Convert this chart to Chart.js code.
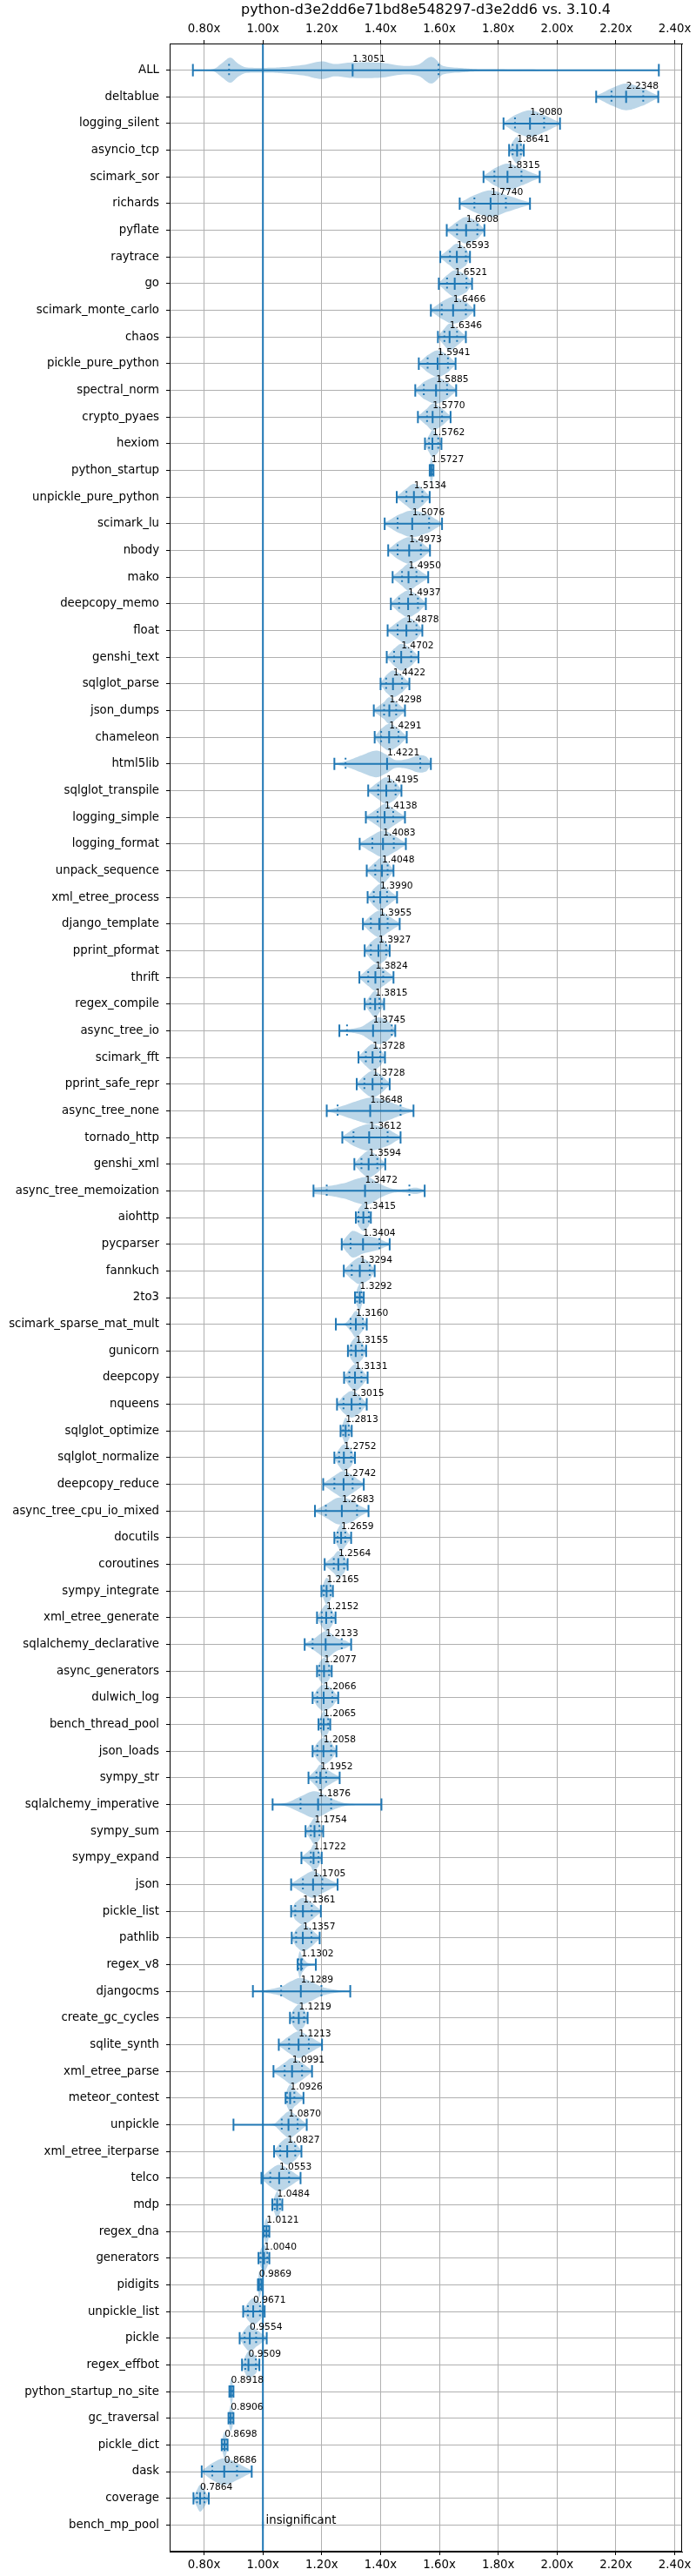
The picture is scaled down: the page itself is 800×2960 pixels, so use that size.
<!DOCTYPE html>
<html>
<head>
<meta charset="utf-8">
<title>python-d3e2dd6e71bd8e548297-d3e2dd6 vs. 3.10.4</title>
<script src="https://cdn.jsdelivr.net/npm/chart.js@4.4.1/dist/chart.umd.min.js"></script>
<style>
  body { margin: 0; background: #fff; }
  #wrap { width: 800px; height: 2960px; }
</style>
</head>
<body>
<div id="wrap"><canvas id="violins" width="800" height="2960"></canvas></div>
<script>
// Benchmarks, top to bottom
const benchmarks = [
    "ALL", "deltablue", "logging_silent", "asyncio_tcp", "scimark_sor", "richards", "pyflate", "raytrace",
    "go", "scimark_monte_carlo", "chaos", "pickle_pure_python", "spectral_norm", "crypto_pyaes", "hexiom",
    "python_startup", "unpickle_pure_python", "scimark_lu", "nbody", "mako", "deepcopy_memo", "float",
    "genshi_text", "sqlglot_parse", "json_dumps", "chameleon", "html5lib", "sqlglot_transpile",
    "logging_simple", "logging_format", "unpack_sequence", "xml_etree_process", "django_template",
    "pprint_pformat", "thrift", "regex_compile", "async_tree_io", "scimark_fft", "pprint_safe_repr",
    "async_tree_none", "tornado_http", "genshi_xml", "async_tree_memoization", "aiohttp", "pycparser",
    "fannkuch", "2to3", "scimark_sparse_mat_mult", "gunicorn", "deepcopy", "nqueens", "sqlglot_optimize",
    "sqlglot_normalize", "deepcopy_reduce", "async_tree_cpu_io_mixed", "docutils", "coroutines",
    "sympy_integrate", "xml_etree_generate", "sqlalchemy_declarative", "async_generators", "dulwich_log",
    "bench_thread_pool", "json_loads", "sympy_str", "sqlalchemy_imperative", "sympy_sum", "sympy_expand",
    "json", "pickle_list", "pathlib", "regex_v8", "djangocms", "create_gc_cycles", "sqlite_synth",
    "xml_etree_parse", "meteor_contest", "unpickle", "xml_etree_iterparse", "telco", "mdp", "regex_dna",
    "generators", "pidigits", "unpickle_list", "pickle", "regex_effbot", "python_startup_no_site",
    "gc_traversal", "pickle_dict", "dask", "coverage", "bench_mp_pool"
];

// Speedup shown next to each violin (null = insignificant)
const means = [
    1.3051, 2.2348, 1.9080, 1.8641, 1.8315, 1.7740, 1.6908, 1.6593,
    1.6521, 1.6466, 1.6346, 1.5941, 1.5885, 1.5770, 1.5762,
    1.5727, 1.5134, 1.5076, 1.4973, 1.4950, 1.4937, 1.4878,
    1.4702, 1.4422, 1.4298, 1.4291, 1.4221, 1.4195,
    1.4138, 1.4083, 1.4048, 1.3990, 1.3955,
    1.3927, 1.3824, 1.3815, 1.3745, 1.3728, 1.3728,
    1.3648, 1.3612, 1.3594, 1.3472, 1.3415, 1.3404,
    1.3294, 1.3292, 1.3160, 1.3155, 1.3131, 1.3015, 1.2813,
    1.2752, 1.2742, 1.2683, 1.2659, 1.2564,
    1.2165, 1.2152, 1.2133, 1.2077, 1.2066,
    1.2065, 1.2058, 1.1952, 1.1876, 1.1754, 1.1722,
    1.1705, 1.1361, 1.1357, 1.1302, 1.1289, 1.1219, 1.1213,
    1.0991, 1.0926, 1.0870, 1.0827, 1.0553, 1.0484, 1.0121,
    1.0040, 0.9869, 0.9671, 0.9554, 0.9509, 0.8918,
    0.8906, 0.8698, 0.8686, 0.7864, null
];

// Extremes and dotted quantile marks of each distribution
const mins = [
    0.762, 2.133, 1.818, 1.837, 1.750, 1.669, 1.625, 1.603,
    1.598, 1.571, 1.595, 1.530, 1.518, 1.527, 1.551,
    1.567, 1.455, 1.414, 1.426, 1.441, 1.435, 1.424,
    1.421, 1.400, 1.377, 1.380, 1.243, 1.358,
    1.350, 1.329, 1.353, 1.356, 1.340,
    1.346, 1.328, 1.346, 1.260, 1.325, 1.319,
    1.217, 1.270, 1.311, 1.172, 1.316, 1.268,
    1.275, 1.313, 1.248, 1.289, 1.276, 1.252, 1.264,
    1.243, 1.205, 1.177, 1.243, 1.210,
    1.199, 1.184, 1.142, 1.184, 1.169,
    1.189, 1.169, 1.155, 1.033, 1.145, 1.131,
    1.096, 1.096, 1.098, 1.118, 0.966, 1.092, 1.054,
    1.036, 1.077, 0.900, 1.038, 0.995, 1.032, 1.002,
    0.985, 0.983, 0.933, 0.921, 0.929, 0.886,
    0.883, 0.860, 0.792, 0.764, null
];
const q1s = [
    0.885, 2.185, 1.857, 1.849, 1.787, 1.719, 1.660, 1.636,
    1.626, 1.608, 1.617, 1.560, 1.547, 1.558, 1.565,
    1.569, 1.488, 1.458, 1.458, 1.473, 1.463, 1.458,
    1.446, 1.419, 1.412, 1.402, 1.281, 1.392,
    1.390, 1.372, 1.382, 1.377, 1.367,
    1.367, 1.358, 1.365, 1.286, 1.350, 1.345,
    1.254, 1.308, 1.335, 1.217, 1.325, 1.298,
    1.302, 1.320, 1.298, 1.300, 1.294, 1.274, 1.273,
    1.259, 1.243, 1.214, 1.254, 1.241,
    1.207, 1.200, 1.169, 1.192, 1.185,
    1.197, 1.185, 1.182, 1.128, 1.163, 1.163,
    1.136, 1.110, 1.113, 1.121, 1.062, 1.104, 1.089,
    1.074, 1.082, 1.064, 1.059, 1.025, 1.040, 1.006,
    0.992, 0.985, 0.949, 0.938, 0.940, 0.889,
    0.886, 0.864, 0.828, 0.776, null
];
const q3s = [
    1.597, 2.293, 1.956, 1.877, 1.879, 1.826, 1.729, 1.690,
    1.692, 1.690, 1.660, 1.629, 1.626, 1.609, 1.596,
    1.577, 1.542, 1.565, 1.537, 1.522, 1.527, 1.522,
    1.504, 1.473, 1.453, 1.461, 1.535, 1.451,
    1.443, 1.445, 1.424, 1.422, 1.424,
    1.419, 1.409, 1.396, 1.438, 1.399, 1.404,
    1.468, 1.424, 1.389, 1.498, 1.360, 1.396,
    1.363, 1.335, 1.340, 1.337, 1.335, 1.330, 1.292,
    1.300, 1.305, 1.320, 1.280, 1.276,
    1.230, 1.233, 1.268, 1.225, 1.236,
    1.222, 1.232, 1.215, 1.232, 1.192, 1.189,
    1.202, 1.166, 1.165, 1.133, 1.199, 1.140, 1.156,
    1.133, 1.107, 1.118, 1.110, 1.089, 1.058, 1.018,
    1.015, 0.993, 0.990, 0.977, 0.976, 0.897,
    0.897, 0.876, 0.912, 0.801, null
];
const maxs = [
    2.346, 2.344, 2.010, 1.887, 1.941, 1.908, 1.753, 1.704,
    1.711, 1.719, 1.690, 1.655, 1.657, 1.638, 1.607,
    1.580, 1.567, 1.609, 1.568, 1.562, 1.554, 1.542,
    1.529, 1.498, 1.483, 1.489, 1.571, 1.471,
    1.483, 1.486, 1.444, 1.456, 1.465,
    1.431, 1.444, 1.412, 1.450, 1.415, 1.431,
    1.512, 1.468, 1.416, 1.550, 1.367, 1.431,
    1.380, 1.343, 1.353, 1.351, 1.356, 1.353, 1.302,
    1.313, 1.343, 1.359, 1.300, 1.288,
    1.238, 1.247, 1.300, 1.234, 1.256,
    1.229, 1.250, 1.261, 1.403, 1.205, 1.200,
    1.254, 1.197, 1.193, 1.180, 1.297, 1.152, 1.201,
    1.167, 1.138, 1.149, 1.131, 1.128, 1.066, 1.022,
    1.022, 0.995, 1.006, 1.013, 0.988, 0.900,
    0.900, 0.880, 0.962, 0.816, null
];

// Outlines for the lopsided violins: [value, half width in rows]
const allShape = [[0.762, 0], [0.80, 0.01], [0.836, 0.06], [0.865, 0.3], [0.89, 0.47], [0.915, 0.25],
    [0.94, 0.11], [1.0, 0.09], [1.06, 0.11], [1.14, 0.2], [1.20, 0.33], [1.245, 0.23], [1.30, 0.29],
    [1.40, 0.28], [1.48, 0.16], [1.53, 0.22], [1.573, 0.5], [1.612, 0.16], [1.68, 0.08], [1.73, 0.04],
    [1.9, 0.03], [2.0, 0.01], [2.346, 0]];
const html5libShape = [[1.243, 0.03], [1.28, 0.1], [1.33, 0.3], [1.385, 0.5], [1.42, 0.35], [1.45, 0.15],
    [1.49, 0.18], [1.53, 0.32], [1.555, 0.28], [1.571, 0.08]];
const asyncTreeIoShape = [[1.26, 0.04], [1.30, 0.07], [1.335, 0.15], [1.36, 0.32], [1.39, 0.5], [1.42, 0.4],
    [1.44, 0.2], [1.45, 0.08]];
const asyncTreeNoneShape = [[1.217, 0.04], [1.254, 0.13], [1.315, 0.35], [1.37, 0.5], [1.42, 0.38],
    [1.468, 0.18], [1.512, 0.04]];
const asyncTreeMemoShape = [[1.172, 0.12], [1.217, 0.17], [1.28, 0.3], [1.33, 0.48], [1.36, 0.5], [1.40, 0.25],
    [1.44, 0.08], [1.48, 0.06], [1.52, 0.12], [1.55, 0.04]];
const pycparserShape = [[1.268, 0.08], [1.285, 0.3], [1.305, 0.5], [1.34, 0.35], [1.39, 0.22], [1.431, 0.05]];
const sparseMatMultShape = [[1.248, 0.01], [1.28, 0.04], [1.30, 0.28], [1.316, 0.5], [1.335, 0.3], [1.353, 0.05]];
const cpuIoMixedShape = [[1.177, 0.05], [1.214, 0.25], [1.256, 0.5], [1.30, 0.42], [1.33, 0.2], [1.359, 0.05]];
const sqlalchemyDeclShape = [[1.142, 0.05], [1.17, 0.2], [1.215, 0.5], [1.25, 0.25], [1.28, 0.15], [1.30, 0.04]];
const sqlalchemyImpShape = [[1.033, 0.02], [1.08, 0.07], [1.128, 0.3], [1.177, 0.5], [1.232, 0.23], [1.28, 0.05],
    [1.33, 0.015], [1.403, 0.01]];
const regexV8Shape = [[1.118, 0.2], [1.125, 0.5], [1.133, 0.3], [1.15, 0.08], [1.18, 0.02]];
const djangocmsShape = [[0.966, 0.02], [1.0, 0.04], [1.062, 0.17], [1.10, 0.4], [1.128, 0.5], [1.16, 0.38],
    [1.199, 0.17], [1.25, 0.05], [1.297, 0.02]];
const unpickleShape = [[0.90, 0.01], [1.0, 0.015], [1.04, 0.05], [1.064, 0.3], [1.09, 0.5], [1.118, 0.3], [1.149, 0.05]];
const benchMpPoolShape = [[0.996, 0.1], [1.0, 0.25], [1.004, 0.1]];

const customShapes = {
    "ALL": allShape, "html5lib": html5libShape, "async_tree_io": asyncTreeIoShape,
    "async_tree_none": asyncTreeNoneShape, "async_tree_memoization": asyncTreeMemoShape,
    "pycparser": pycparserShape, "scimark_sparse_mat_mult": sparseMatMultShape,
    "async_tree_cpu_io_mixed": cpuIoMixedShape, "sqlalchemy_declarative": sqlalchemyDeclShape,
    "sqlalchemy_imperative": sqlalchemyImpShape, "regex_v8": regexV8Shape, "djangocms": djangocmsShape,
    "unpickle": unpickleShape, "bench_mp_pool": benchMpPoolShape
};

// Axis ticks and range
const xTicks = [0.8, 1.0, 1.2, 1.4, 1.6, 1.8, 2.0, 2.2, 2.4];
const xMin = 0.683;
const xMax = 2.425;
const baseline = 1.0;
const insignificantText = "insignificant";
const titleText = "python-d3e2dd6e71bd8e548297-d3e2dd6 vs. 3.10.4";

const blue = "#1f77b4";
const capHalf = 0.23;   // half height of caps / median marks, in rows
const fontFamily = '"DejaVu Sans", sans-serif';

// Build segmented line data (null points split the line)
const whiskerData = [], capData = [], medianData = [], quantileData = [];
function vSegment(list, v, i) {
    list.push({ x: v, y: i - capHalf }, { x: v, y: i + capHalf }, { x: null, y: null });
}
benchmarks.forEach((name, i) => {
    if (mins[i] === null) return;
    whiskerData.push({ x: mins[i], y: i }, { x: maxs[i], y: i }, { x: null, y: null });
    vSegment(capData, mins[i], i);
    vSegment(capData, maxs[i], i);
    vSegment(medianData, means[i], i);
    vSegment(quantileData, q1s[i], i);
    vSegment(quantileData, q3s[i], i);
});

// Control points of a violin outline
function violinPoints(i) {
    const custom = customShapes[benchmarks[i]];
    if (custom) return custom;
    return [[mins[i], 0.06], [q1s[i], 0.32], [means[i], 0.5], [q3s[i], 0.32], [maxs[i], 0.06]];
}

// Smooth the half widths between control points (x stays linear in each step)
function smoothProfile(pts) {
    const out = [];
    const n = pts.length;
    for (let k = 0; k < n - 1; k++) {
        const w0 = pts[Math.max(k - 1, 0)][1], w1 = pts[k][1], w2 = pts[k + 1][1], w3 = pts[Math.min(k + 2, n - 1)][1];
        for (let s = 0; s < 10; s++) {
            const t = s / 10, t2 = t * t, t3 = t2 * t;
            const w = 0.5 * (2 * w1 + (-w0 + w2) * t + (2 * w0 - 5 * w1 + 4 * w2 - w3) * t2 + (-w0 + 3 * w1 - 3 * w2 + w3) * t3);
            out.push([pts[k][0] + (pts[k + 1][0] - pts[k][0]) * t, Math.max(0, w)]);
        }
    }
    out.push(pts[n - 1]);
    return out;
}

const violinPlugin = {
    id: "violins",
    beforeDatasetsDraw(chart) {
        const { ctx, chartArea, scales: { x, y } } = chart;
        ctx.save();
        ctx.beginPath();
        ctx.rect(chartArea.left, chartArea.top, chartArea.width, chartArea.height);
        ctx.clip();
        ctx.fillStyle = "rgba(31, 119, 180, 0.3)";
        benchmarks.forEach((name, i) => {
            const prof = smoothProfile(violinPoints(i));
            ctx.beginPath();
            prof.forEach(([v, w], k) => {
                const px = x.getPixelForValue(v), py = y.getPixelForValue(i - w);
                if (k === 0) ctx.moveTo(px, py); else ctx.lineTo(px, py);
            });
            for (let k = prof.length - 1; k >= 0; k--) {
                ctx.lineTo(x.getPixelForValue(prof[k][0]), y.getPixelForValue(i + prof[k][1]));
            }
            ctx.closePath();
            ctx.fill();
        });
        ctx.restore();
    },
    afterDatasetsDraw(chart) {
        const { ctx, scales: { x, y } } = chart;
        ctx.save();
        ctx.fillStyle = "#000";
        ctx.textAlign = "left";
        ctx.textBaseline = "alphabetic";
        ctx.font = "10.7px " + fontFamily;
        benchmarks.forEach((name, i) => {
            if (means[i] === null) return;
            ctx.fillText(means[i].toFixed(4), x.getPixelForValue(means[i]), y.getPixelForValue(i - 0.32));
        });
        // rows without a significant change
        ctx.font = "13.3px " + fontFamily;
        benchmarks.forEach((name, i) => {
            if (means[i] !== null) return;
            ctx.fillText(insignificantText, x.getPixelForValue(baseline + 0.01), y.getPixelForValue(i - 0.03));
        });
        ctx.restore();
    },
    afterDraw(chart) {
        const { ctx, chartArea } = chart;
        ctx.save();
        ctx.strokeStyle = "#000";
        ctx.lineWidth = 1;
        ctx.strokeRect(Math.round(chartArea.left) + 0.5, Math.round(chartArea.top) + 0.5,
            Math.round(chartArea.width) - 1, Math.round(chartArea.height) - 1);
        ctx.restore();
    }
};

function xAxis(position, height) {
    return {
        type: "linear",
        position: position,
        min: xMin,
        max: xMax,
        afterBuildTicks: scale => { scale.ticks = xTicks.map(v => ({ value: v })); },
        afterFit: scale => { scale.height = height; },
        ticks: {
            callback: v => v.toFixed(2) + "x",
            color: "#000",
            font: { size: 13.3 },
            padding: 4,
            maxRotation: 0,
            autoSkip: false
        },
        grid: { color: "#b0b0b0", lineWidth: 1, tickColor: "#000", tickLength: 4, tickWidth: 1 },
        border: { display: true, color: "#000", width: 1 }
    };
}

function lineSet(data, width, dash) {
    return {
        type: "scatter",
        data: data,
        showLine: true,
        spanGaps: false,
        borderColor: blue,
        borderWidth: width,
        borderDash: dash || [],
        borderCapStyle: "butt",
        pointRadius: 0,
        pointHoverRadius: 0,
        pointHitRadius: 0,
        xAxisID: "x",
        yAxisID: "y"
    };
}

Chart.defaults.font.family = fontFamily;

const ctx = document.getElementById("violins").getContext("2d");
window.violinChart = new Chart(ctx, {
    type: "scatter",
    data: {
        datasets: [
            lineSet([{ x: baseline, y: -1 }, { x: baseline, y: benchmarks.length }], 2),
            lineSet(whiskerData, 2),
            lineSet(capData, 2),
            lineSet(medianData, 2),
            lineSet(quantileData, 2, [2, 3.3])
        ]
    },
    options: {
        responsive: false,
        animation: false,
        devicePixelRatio: 1,
        events: [],
        layout: { padding: { left: 0, right: 16, top: 0, bottom: 0 } },
        plugins: {
            legend: { display: false },
            tooltip: { enabled: false },
            title: {
                display: true,
                text: titleText,
                fullSize: false,
                color: "#000",
                font: { size: 16, weight: "normal" },
                padding: { top: 2, bottom: 2.8 }
            }
        },
        scales: {
            x: xAxis("bottom", 28),
            x2: xAxis("top", 26),
            y: {
                type: "linear",
                reverse: true,
                min: -1,
                max: benchmarks.length,
                afterBuildTicks: scale => { scale.ticks = benchmarks.map((n, i) => ({ value: i })); },
                afterFit: scale => { scale.width = 195; },
                ticks: {
                    callback: v => benchmarks[Math.round(v)] || "",
                    color: "#000",
                    font: { size: 13.3 },
                    padding: 8,
                    autoSkip: false
                },
                grid: { color: "#b0b0b0", lineWidth: 1, tickColor: "#000", tickLength: 4, tickWidth: 1 },
                border: { display: true, color: "#000", width: 1 }
            }
        }
    },
    plugins: [violinPlugin]
});
</script>
</body>
</html>
